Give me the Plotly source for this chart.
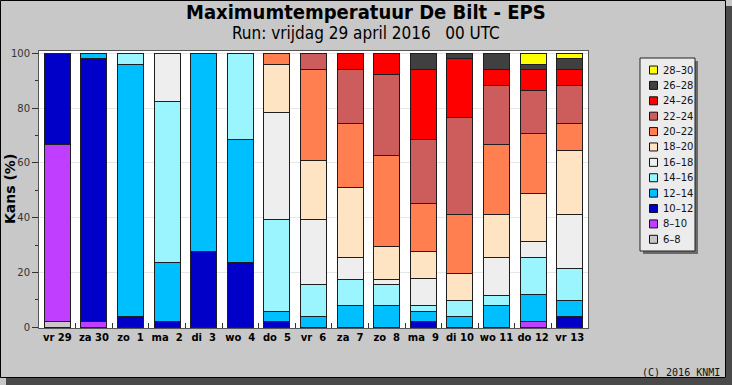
import plotly.graph_objects as go

# ---------------- data ----------------
days = ["vr 29", "za 30", "zo\u00a0\u00a01", "ma\u00a0\u00a02", "di\u00a0\u00a03", "wo\u00a0\u00a04",
        "do\u00a0\u00a05", "vr\u00a0\u00a06", "za\u00a0\u00a07", "zo\u00a0\u00a08", "ma\u00a0\u00a09",
        "di 10", "wo 11", "do 12", "vr 13"]

classes = ["6–8", "8–10", "10–12", "12–14", "14–16", "16–18",
           "18–20", "20–22", "22–24", "24–26", "26–28", "28–30"]

p_06_08 = [2.0, 0, 0, 0, 0, 0, 0, 0, 0, 0, 0, 0, 0, 0, 0]
p_08_10 = [64.7, 2.0, 0, 0, 0, 0, 0, 0, 0, 0, 0, 0, 0, 2.0, 0]
p_10_12 = [33.3, 96.1, 3.9, 2.0, 27.5, 23.5, 2.0, 0, 0, 0, 2.0, 0, 0, 0, 3.9]
p_12_14 = [0, 2.0, 92.2, 21.6, 72.5, 45.1, 3.9, 3.9, 7.8, 7.8, 3.9, 3.9, 7.8, 9.8, 5.9]
p_14_16 = [0, 0, 3.9, 58.8, 0, 31.4, 33.3, 11.8, 9.8, 7.8, 2.0, 5.9, 3.9, 13.7, 11.8]
p_16_18 = [0, 0, 0, 17.6, 0, 0, 39.2, 23.5, 7.8, 2.0, 9.8, 0, 13.7, 5.9, 19.6]
p_18_20 = [0, 0, 0, 0, 0, 0, 17.6, 21.6, 25.5, 11.8, 9.8, 9.8, 15.7, 17.6, 23.5]
p_20_22 = [0, 0, 0, 0, 0, 0, 3.9, 33.3, 23.5, 33.3, 17.6, 21.6, 25.5, 21.6, 9.8]
p_22_24 = [0, 0, 0, 0, 0, 0, 0, 5.9, 19.6, 29.4, 23.5, 35.3, 21.6, 15.7, 13.7]
p_24_26 = [0, 0, 0, 0, 0, 0, 0, 0, 5.9, 7.8, 25.5, 21.6, 5.9, 7.8, 5.9]
p_26_28 = [0, 0, 0, 0, 0, 0, 0, 0, 0, 0, 5.9, 2.0, 5.9, 2.0, 3.9]
p_28_30 = [0, 0, 0, 0, 0, 0, 0, 0, 0, 0, 0, 0, 0, 3.9, 2.0]

series = [p_06_08, p_08_10, p_10_12, p_12_14, p_14_16, p_16_18,
          p_18_20, p_20_22, p_22_24, p_24_26, p_26_28, p_28_30]

colors = ["#C8C8C8", "#BF3EFF", "#0000C8", "#00BFFF", "#9BF5FF", "#EEEEEE",
          "#FFE4C4", "#FF7F50", "#CD5C5C", "#FF0000", "#404040", "#FFFF00"]

y_ticks = [0, 20, 40, 60, 80, 100]

# ---------------- geometry helpers (pixel -> paper) ----------------
W, H = 732, 385
L, R, T, B = 39, 588, 51, 328


def px(x):
    return (x - L) / (R - L)


def py(y):
    return (B - y) / (B - T)


fig = go.Figure()
for name, vals, col in zip(classes, series, colors):
    fig.add_trace(go.Bar(
        x=days, y=[v if v else None for v in vals], name=name,
        marker=dict(color=col, line=dict(color="#1e1e1e", width=1)),
        showlegend=False,
    ))

shapes = []
annotations = []

# outer frame + shadow
shapes.append(dict(type="rect", xref="paper", yref="paper", x0=px(726), x1=px(733), y0=py(6), y1=py(386),
                   fillcolor="#4a4a4a", line=dict(width=0), layer="above"))
shapes.append(dict(type="rect", xref="paper", yref="paper", x0=px(6), x1=px(733), y0=py(378), y1=py(386),
                   fillcolor="#4a4a4a", line=dict(width=0), layer="above"))
shapes.append(dict(type="rect", xref="paper", yref="paper", x0=px(0.5), x1=px(725.5), y0=py(0.5), y1=py(377.5),
                   fillcolor="rgba(0,0,0,0)", line=dict(width=1, color="#000000"), layer="above"))

# manual legend
lx0, lx1, ly0, ly1 = 640, 695, 58, 251
shapes.append(dict(type="rect", xref="paper", yref="paper", x0=px(lx0 + 3), x1=px(lx1 + 3), y0=py(ly0 + 3), y1=py(ly1 + 3),
                   fillcolor="#6a6a6a", line=dict(width=0), layer="above"))
shapes.append(dict(type="rect", xref="paper", yref="paper", x0=px(lx0), x1=px(lx1), y0=py(ly0), y1=py(ly1),
                   fillcolor="#ECECEC", line=dict(width=1, color="#222222"), layer="above"))
n = len(classes)
for i, (name, col) in enumerate(zip(reversed(classes), reversed(colors))):
    cy = 70 + i * (239.3 - 70) / (n - 1)
    shapes.append(dict(type="rect", xref="paper", yref="paper", x0=px(649.5), x1=px(657.5), y0=py(cy - 4), y1=py(cy + 4),
                       fillcolor=col, line=dict(width=1, color="#111111"), layer="above"))
    annotations.append(dict(text=name, xref="paper", yref="paper", x=px(661), y=py(cy), xanchor="left", yanchor="middle",
                            showarrow=False, font=dict(family="DejaVu Sans", size=10, color="#111111")))

# titles
annotations.append(dict(text="<b>Maximumtemperatuur De Bilt - EPS</b>", xref="paper", yref="paper",
                        x=px(366), y=py(12), xanchor="center", yanchor="middle", showarrow=False,
                        font=dict(family="DejaVu Sans Condensed, DejaVu Sans", size=20, color="#000000")))
annotations.append(dict(text="Run: vrijdag 29 april 2016\u00a0\u00a0\u00a000 UTC", xref="paper", yref="paper",
                        x=px(366), y=py(33), xanchor="center", yanchor="middle", showarrow=False,
                        font=dict(family="DejaVu Sans Condensed, DejaVu Sans", size=17, color="#000000")))
annotations.append(dict(text="<b>Kans (%)</b>", xref="paper", yref="paper", textangle=-90,
                        x=px(10), y=py(189), xanchor="center", yanchor="middle", showarrow=False,
                        font=dict(family="DejaVu Sans", size=14, color="#000000")))
annotations.append(dict(text="(C) 2016 KNMI", xref="paper", yref="paper",
                        x=px(722), y=py(372), xanchor="right", yanchor="middle", showarrow=False,
                        font=dict(family="DejaVu Sans Mono", size=10, color="#111111")))

fig.update_layout(
    width=W, height=H,
    margin=dict(l=L, r=W - R, t=T, b=H - B, pad=0, autoexpand=False),
    paper_bgcolor="#C8C8C8", plot_bgcolor="#FFFFFF",
    barmode="stack", bargap=0.29,
    shapes=shapes, annotations=annotations,
    showlegend=False,
    xaxis=dict(type="category", categoryorder="array", categoryarray=days,
               showline=True, linecolor="#555555", linewidth=1, mirror=True,
               ticks="inside", tickson="boundaries", ticklen=5, tickcolor="#333333",
               tickangle=0, automargin=False,
               tickfont=dict(family="DejaVu Sans", size=10, color="#000000"),
               tickprefix="<b>", ticksuffix="</b>",
               showgrid=False),
    yaxis=dict(range=[-0.25, 100.85], tickvals=y_ticks, ticktext=[str(v) for v in y_ticks],
               showline=True, linecolor="#555555", linewidth=1, mirror=True,
               ticks="outside", ticklen=6, tickcolor="#333333", automargin=False,
               tickfont=dict(family="DejaVu Sans", size=10, color="#333333"),
               showgrid=True, gridcolor="#E6E6E6", gridwidth=1, zeroline=False,
               minor=dict(dtick=10, tick0=0, ticks="outside", ticklen=3, tickcolor="#333333", showgrid=False)),
)

fig.write_html("out.html", config={"displayModeBar": False},
               post_script="document.body.style.margin='0px';document.body.style.padding='0px';")
